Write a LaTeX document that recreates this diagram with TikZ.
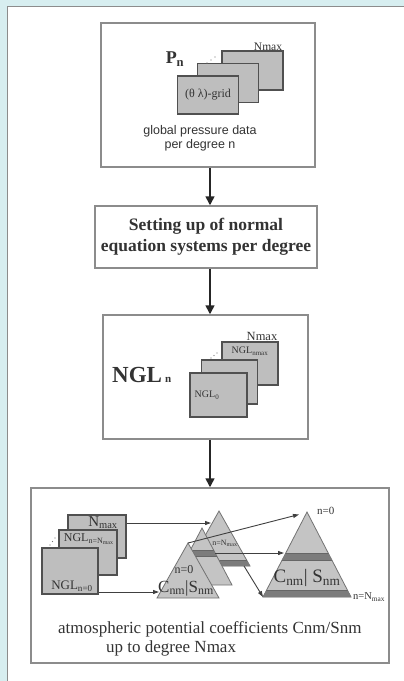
\documentclass[tikz,border=0pt]{standalone}
\usepackage{fontspec}
\setmainfont{Liberation Serif}
\setsansfont{Liberation Sans}
\usetikzlibrary{arrows.meta}
\definecolor{frame}{HTML}{8C8C8C}
\definecolor{sheetfill}{HTML}{BEBEBE}
\definecolor{sheetline}{HTML}{505050}
\definecolor{trifill}{HTML}{C4C4C4}
\definecolor{band}{HTML}{7C7C7C}
\definecolor{ink}{HTML}{333333}
\definecolor{page}{HTML}{D7EEF0}

\tikzset{
  box/.style={draw=frame, line width=1.5pt, fill=white, inner sep=0pt},
  sheet/.style={draw=sheetline, line width=1.1pt, fill=sheetfill, inner sep=0pt, text=ink},
  flow/.style={line width=1.6pt, draw=black!85, -{Triangle[length=9pt,width=9pt]}},
  link/.style={line width=0.9pt, draw=black!75, -{Triangle[length=6pt,width=4pt]}},
  tri/.style={draw=black!55, line width=0.8pt, fill=trifill},
  bandst/.style={draw=black!60, line width=0.6pt, fill=band},
  lbl/.style={text=ink, inner sep=0pt},
}

\begin{document}
\begin{tikzpicture}[x=1pt, y=-1pt]
    \useasboundingbox (0,0) rectangle (404,681);
    \fill[page] (0,0) rectangle (404,681);
    \fill[white] (7,6) rectangle (404,681);
    \draw[black!45, line width=0.8pt] (7,681) -- (7,6) -- (404,6);

    % the four stages
    \node[box, minimum width=214pt, minimum height=144pt] (b1) at (208,95) {};
    \node[box, minimum width=222pt, minimum height=62pt, align=center, text=ink,
          font=\fontsize{17.5}{21.5}\selectfont\bfseries] (b2) at (206,237) {Setting up of normal\\equation systems per degree};
    \node[box, minimum width=205pt, minimum height=124pt] (b3) at (205.5,377) {};
    \node[box, minimum width=358pt, minimum height=175pt] (b4) at (210,575.5) {};

    \draw[flow] (b1.south -| b4.north) -- (b2.north -| b4.north);
    \draw[flow] (b2.south -| b4.north) -- (b3.north -| b4.north);
    \draw[flow] (b3.south -| b4.north) -- (b4.north);

    % pressure grids
    \node[sheet, minimum width=61pt, minimum height=39pt] (p3) at (252.5,70.5) {};
    \node[sheet, minimum width=61pt, minimum height=39pt] (p2) at (228,83) {};
    \node[sheet, minimum width=61pt, minimum height=38pt, font=\fontsize{12}{14}\selectfont] (p1) at (208,95) {(θ λ)-grid};
    \node[lbl, font=\fontsize{11.5}{12}\selectfont] (pmax) at (268,47) {Nmax};
    \fill[black!55] (207,63) circle (0.6) (211,60) circle (0.6) (215,57) circle (0.6);
    \node[lbl, font=\fontsize{18}{18}\selectfont\bfseries] (pn) at (175,59) {P\textsubscript{n}};
    \node[lbl, align=center, font=\sffamily\fontsize{12.5}{13.5}\selectfont] (pdata) at (200,138.5) {global pressure data\\per degree n};

    % normal equations
    \node[sheet, minimum width=56pt, minimum height=43pt] (q3) at (250,363.5) {};
    \node[sheet, minimum width=56pt, minimum height=44pt] (q2) at (229.5,382) {};
    \node[sheet, minimum width=57pt, minimum height=44pt] (q1) at (218.5,395) {};
    \node[lbl, font=\fontsize{12.5}{13}\selectfont] (qmax) at (262,336) {Nmax};
    \node[lbl, font=\fontsize{10}{10}\selectfont] (qtop) at (250,351) {NGL\textsubscript{nmax}};
    \node[lbl, font=\fontsize{10}{10}\selectfont] (qlow) at (207,395) {NGL\textsubscript{0}};
    \fill[black!55] (211,358) circle (0.6) (214,355.5) circle (0.6) (217,353) circle (0.6);
    \node[lbl, anchor=base west, font=\fontsize{23}{23}\selectfont\bfseries] (ngl) at (112,382) {NGL\kern3pt{\fontsize{11}{11}\selectfont n}};

    % sheets in the last stage
    \node[sheet, minimum width=58pt, minimum height=43pt] (r3) at (97,536.5) {};
    \node[sheet, minimum width=58pt, minimum height=45pt] (r2) at (88,552.5) {};
    \node[sheet, minimum width=56pt, minimum height=46pt] (r1) at (70,571) {};
    \node[lbl, font=\fontsize{15}{15}\selectfont] (rmax) at (103,523) {N\textsubscript{max}};
    \node[lbl, font=\fontsize{12}{12}\selectfont] (rtop) at (89,539) {NGL\textsubscript{n=N\textsubscript{max}}};
    \node[lbl, font=\fontsize{13}{13}\selectfont] (rlow) at (72,586) {NGL\textsubscript{n=0}};
    \fill[black!55] (50,545) circle (0.6) (52.5,541.5) circle (0.6) (55,538) circle (0.6);

    % coefficient triangles
    \coordinate (ta) at (219,511);
    \coordinate (tb) at (202,528);
    \coordinate (tc) at (188,543);
    \coordinate (td) at (307,512);

    \filldraw[tri] (ta) -- ++(-31,55) -- ++(62,0) -- cycle;
    \begin{scope}
        \clip (ta) -- ++(-31,55) -- ++(62,0) -- cycle;
        \filldraw[bandst] (150,560) rectangle (260,566);
    \end{scope}
    \filldraw[tri] (tb) -- ++(-30,57) -- ++(60,0) -- cycle;
    \begin{scope}
        \clip (tb) -- ++(-30,57) -- ++(60,0) -- cycle;
        \filldraw[bandst] (150,550) rectangle (260,556);
    \end{scope}
    \filldraw[tri] (tc) -- ++(-31,55) -- ++(62,0) -- cycle;
    \filldraw[tri] (td) -- ++(-44,85) -- ++(88,0) -- cycle;
    \begin{scope}
        \clip (td) -- ++(-44,85) -- ++(88,0) -- cycle;
        \filldraw[bandst] (250,553) rectangle (360,560);
        \filldraw[bandst] (250,590) rectangle (360,597);
    \end{scope}

    \node[lbl, font=\fontsize{8}{8}\selectfont] (tnb) at (225,543) {n=N\textsubscript{max}};
    \node[lbl, font=\fontsize{12}{12}\selectfont] (tn0) at (184,570) {n=0};
    \node[lbl, font=\fontsize{17}{17}\selectfont] (tcs) at (186,588) {C\textsubscript{nm}|S\textsubscript{nm}};
    \node[lbl, font=\fontsize{19}{19}\selectfont] (dcs) at (307,578) {C\textsubscript{nm}| S\textsubscript{nm}};
    \node[lbl, anchor=west, font=\fontsize{11}{11}\selectfont] (dn0) at (317,511) {n=0};
    \node[lbl, anchor=west, font=\fontsize{10.5}{10.5}\selectfont] (dnn) at (353,597) {n=N\textsubscript{max}};

    % arrows into the triangles
    \coordinate (a1) at (211,523);
    \coordinate (a2) at (159,592);
    \coordinate (a3) at (299,514.5);
    \coordinate (a4s) at (215,553);
    \coordinate (a4) at (284,553);
    \coordinate (a5s) at (244,566);
    \coordinate (a5) at (263,597);
    \draw[link] (r3.east |- a1) -- (a1);
    \draw[link] (r1.east |- a2) -- (a2);
    \draw[link] (tc) -- (a3);
    \draw[link] (a4s) -- (a4);
    \draw[link] (a5s) -- (a5);

    \node[lbl, anchor=west, font=\fontsize{17}{17}\selectfont] (coef1) at (58,629) {atmospheric potential coefficients Cnm/Snm};
    \node[lbl, anchor=west, font=\fontsize{17}{17}\selectfont] (coef2) at (106,648) {up to degree Nmax};
\end{tikzpicture}
\end{document}
